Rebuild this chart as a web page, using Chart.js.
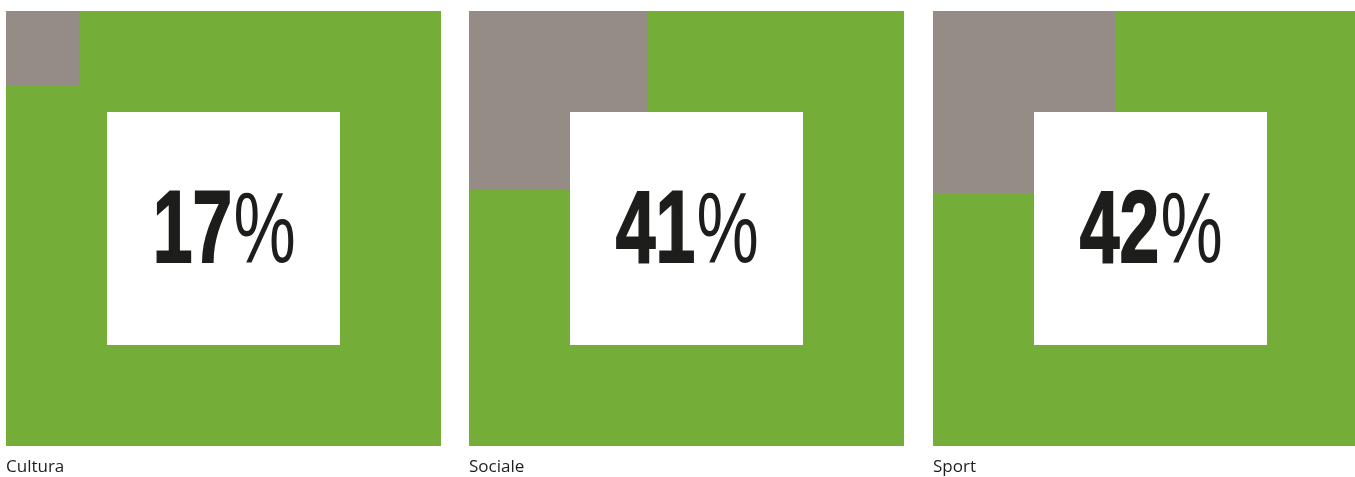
<!DOCTYPE html>
<html lang="it">
<head>
<meta charset="utf-8">
<title>Quote per ambito</title>
<script src="https://cdn.jsdelivr.net/npm/chart.js@4"></script>
<style>
  html, body { margin: 0; padding: 0; background: #fff; overflow: hidden; }
  body { width: 1355px; height: 477px; position: relative; }
  .panel { position: absolute; top: 11px; width: 435px; height: 466px; }
  .panel canvas { display: block; }
</style>
</head>
<body>
<div class="panel" style="left:6px"><canvas id="c0" width="435" height="466"></canvas></div>
<div class="panel" style="left:469px"><canvas id="c1" width="435" height="466"></canvas></div>
<div class="panel" style="left:933px"><canvas id="c2" width="435" height="466"></canvas></div>
<script>
// areas and their share (percent)
const categories = ['Cultura', 'Sociale', 'Sport'];
const shares = [17, 41, 42];

const GREEN = '#75ad39';
const GREY = '#968c87';
const INK = '#1d1d1b';
// white inset square, in axis units (0-100)
const INSET_FROM = 23.2;
const INSET_TO = 76.8;

Chart.defaults.font.family = '"Open Sans", "Noto Sans", sans-serif';

// big percentage written in the middle of the inset
const centerLabel = {
  id: 'centerLabel',
  afterDatasetsDraw(chart, args, opts) {
    const { ctx, scales } = chart;
    const cx = scales.x.getPixelForValue(50);
    const cy = scales.y.getPixelForValue(50);
    const num = String(opts.value);
    const boldFont = 'bold 102px "Liberation Sans", Arial, sans-serif';
    const thinFont = 'normal 100px "Liberation Sans", Arial, sans-serif';
    ctx.save();
    ctx.fillStyle = INK;
    ctx.strokeStyle = INK;
    ctx.lineWidth = 2;
    ctx.textBaseline = 'alphabetic';
    ctx.font = boldFont;
    const wNum = ctx.measureText(num).width;
    ctx.font = thinFont;
    const wPct = ctx.measureText('%').width;
    const squeeze = 0.7;
    const total = (wNum + wPct) * squeeze;
    ctx.translate(cx - total / 2, cy + 33);
    ctx.scale(squeeze, 1);
    ctx.font = boldFont;
    ctx.fillText(num, 0, 0);
    ctx.strokeText(num, 0, 0);
    ctx.font = thinFont;
    ctx.fillText('%', wNum + 2, 0);
    ctx.restore();
  }
};

function squareSet(from, to, color, fill) {
  return {
    data: [{ x: from, y: to }, { x: to, y: to }],
    fill: fill,
    backgroundColor: color,
    borderWidth: 0,
    pointRadius: 0,
    tension: 0
  };
}

categories.forEach((name, i) => {
  const pct = shares[i];
  new Chart(document.getElementById('c' + i), {
    type: 'line',
    data: {
      datasets: [
        // first dataset is painted last, so the inset sits on top
        squareSet(INSET_FROM, INSET_TO, '#ffffff', { value: INSET_FROM }),
        squareSet(0, pct, GREY, 'origin'),
        squareSet(0, 100, GREEN, 'origin')
      ]
    },
    options: {
      responsive: false,
      animation: false,
      layout: { padding: 0 },
      scales: {
        x: { type: 'linear', min: 0, max: 100, display: false },
        y: { type: 'linear', min: 0, max: 100, reverse: true, display: false }
      },
      plugins: {
        legend: { display: false },
        tooltip: { enabled: false },
        title: {
          display: true,
          text: name,
          position: 'bottom',
          align: 'start',
          color: INK,
          font: { size: 17, weight: 'normal', lineHeight: 1.1 },
          padding: { top: 12, bottom: 0.3 }
        },
        centerLabel: { value: pct }
      }
    },
    plugins: [centerLabel]
  });
});
</script>
</body>
</html>
